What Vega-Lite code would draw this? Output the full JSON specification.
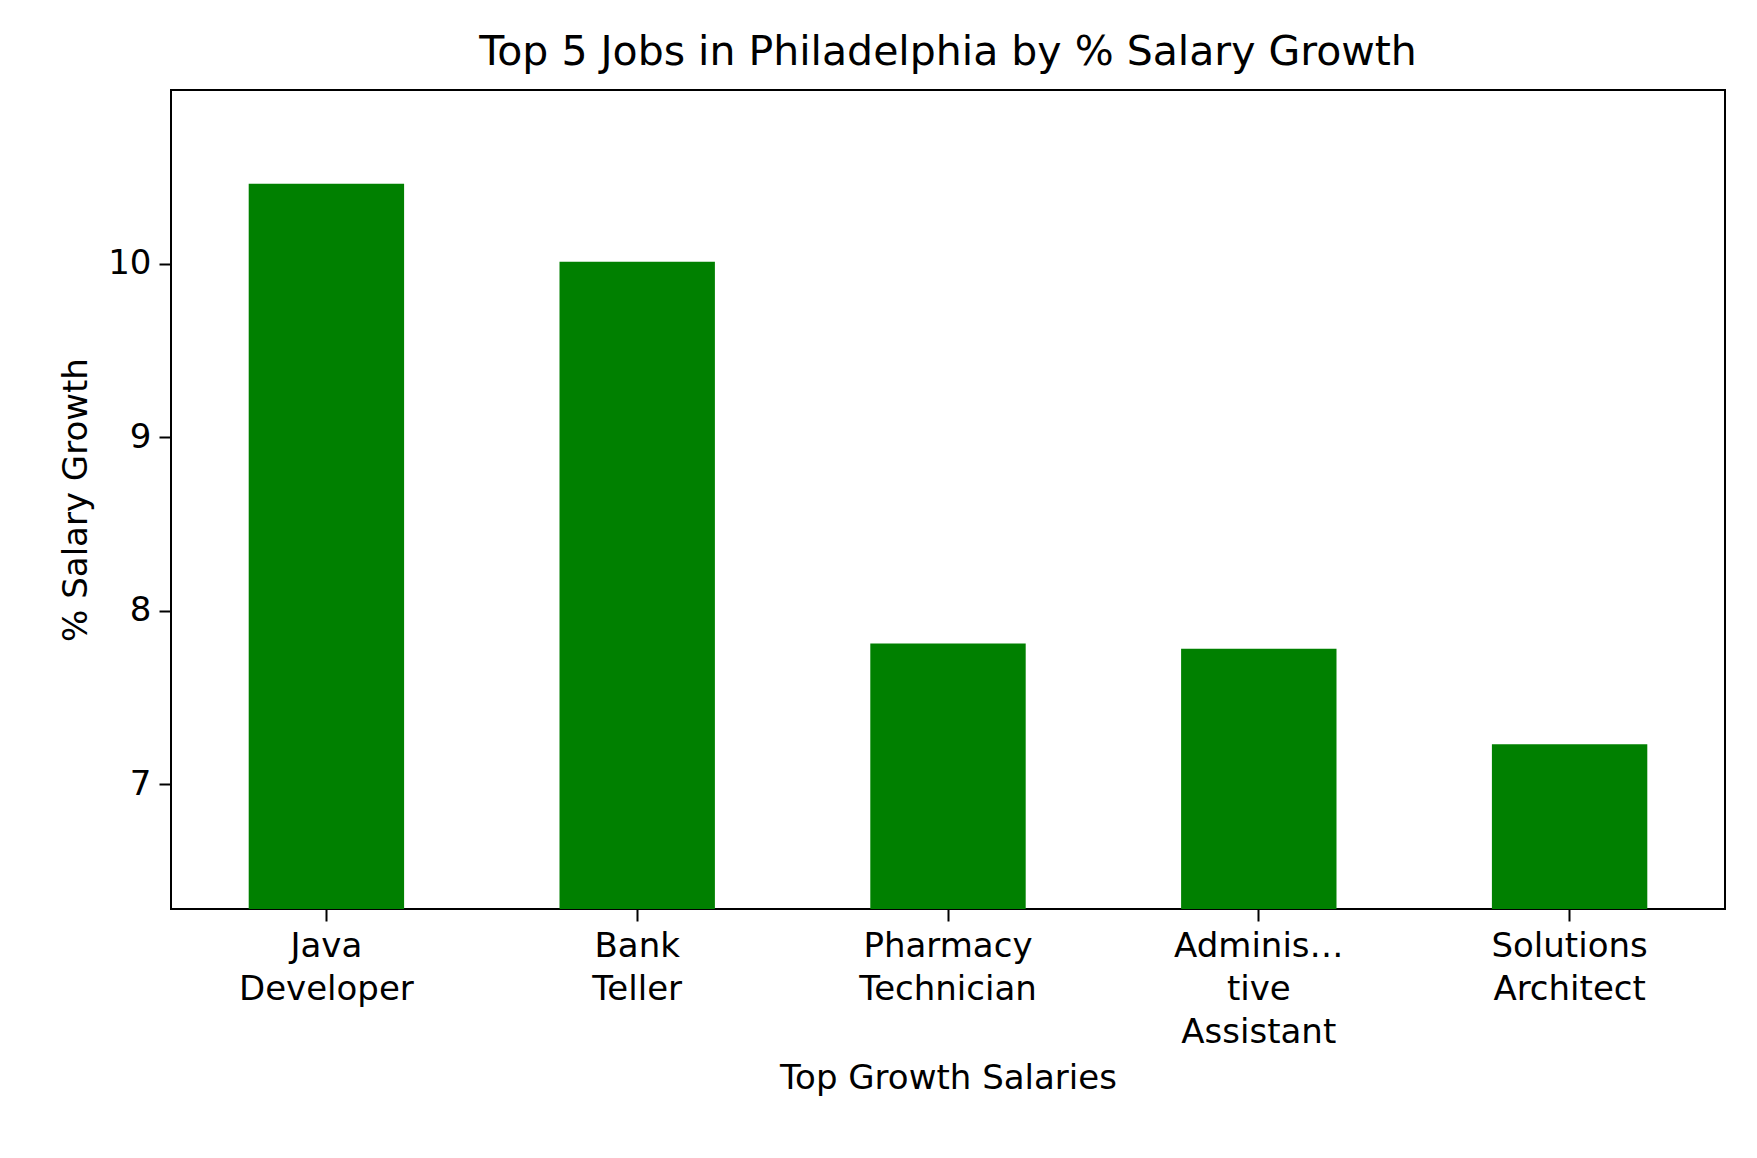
{
  "$schema": "https://vega.github.io/schema/vega-lite/v6.json",
  "width": 1554,
  "height": 819,
  "autosize": {"type": "none"},
  "padding": {"left": 171, "top": 90, "right": 32, "bottom": 249},
  "data": {
    "values": [
      {"job": "Java Developer", "growth": 10.46},
      {"job": "Bank Teller", "growth": 10.01},
      {"job": "Pharmacy Technician", "growth": 7.81},
      {"job": "Administrative Assistant", "growth": 7.78},
      {"job": "Solutions Architect", "growth": 7.23}
    ]
  },
  "title": {"text": "Top 5 Jobs in Philadelphia by % Salary Growth", "fontSize": 41, "fontWeight": "normal", "font": "DejaVu Sans", "offset": 16, "color": "black"},
  "mark": {"type": "bar", "color": "#008000", "clip": true},
  "encoding": {
    "x": {
      "field": "job", "type": "nominal", "sort": null,
      "title": "Top Growth Salaries",
      "scale": {"paddingInner": 0.5, "paddingOuter": 0.25},
      "axis": {
        "labelAngle": 0,
        "labelExpr": "datum.label == 'Administrative Assistant' ? ['Administra','tive','Assistant'] : split(datum.label, ' ')",
        "labelLineHeight": 43,
        "titlePadding": 12
      }
    },
    "y": {
      "field": "growth", "type": "quantitative",
      "title": "% Salary Growth",
      "scale": {"domain": [6.28, 11.0], "zero": false, "nice": false},
      "axis": {"values": [7, 8, 9, 10], "grid": false, "titlePadding": 14}
    }
  },
  "config": {
    "font": "DejaVu Sans",
    "view": {"stroke": "black", "strokeWidth": 2},
    "axis": {
      "domain": false,
      "tickColor": "black", "tickSize": 12, "tickWidth": 2,
      "labelFont": "DejaVu Sans", "labelFontSize": 34, "labelColor": "black", "labelPadding": 8,
      "titleFont": "DejaVu Sans", "titleFontSize": 34, "titleFontWeight": "normal", "titleColor": "black"
    }
  }
}
